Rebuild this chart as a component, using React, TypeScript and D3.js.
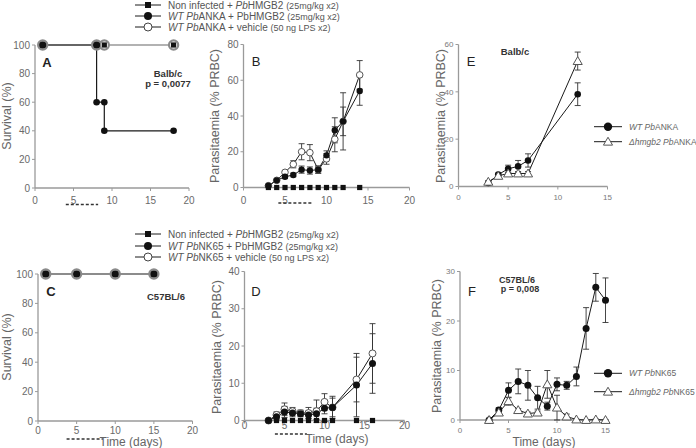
import React from "react";
import * as d3 from "d3";

const FONT = "'Liberation Sans', Arial, Helvetica, sans-serif";

// ---------- Panel A (survival, Balb/c) ----------
const aDaysHmgb2 = [1, 8, 8, 9, 9, 18];
const aHmgb2 = [100, 100, 60, 60, 40, 40];
const aDaysVehicle = [1, 8, 9, 18];
const aVehicle = [100, 100, 100, 100];
const aDaysNonInf = [1, 9, 18];
const aNonInf = [100, 100, 100];
const aTreat = [4, 8.2];

// ---------- Panel B (parasitaemia, Balb/c) ----------
const bDays = [3, 4, 5, 6, 7, 8, 9, 10, 11, 12, 14];
const bHmgb2 = [1, 4, 6, 7, 10, 9.5, 10, 18, 32, 37, 54];
const bHmgb2Err = [0.5, 0.5, 1, 1, 2, 2, 2, 2.5, 7, 8, 8];
const bVehicle = [1, 4, 8.5, 13, 20, 19.5, 10, 16, 27, 37, 63];
const bVehicleErr = [0.5, 0.5, 1, 2, 4.5, 4.5, 2, 3, 7, 16, 8];
const bNonInf = [0, 0, 0, 0, 0, 0, 0, 0, 0, 0, 0];
const bTreat = [4.2, 8.2];

// ---------- Panel E (Balb/c, WT vs KO) ----------
const eDays = [3, 4, 5, 6, 7, 12];
const eWt = [1.5, 5, 7.5, 8.5, 11, 39];
const eWtErr = [0.5, 0.5, 1.5, 2.5, 2.8, 4.8];
const eKo = [2, 4.5, 5.5, 5.5, 5.5, 53];
const eKoErr = [0.5, 0.5, 0.5, 0.8, 0.8, 3.8];

// ---------- Panel C (survival, C57BL/6) ----------
const cDays = [1, 5, 10, 15];
const cAll = [100, 100, 100, 100];
const cTreat = [3.7, 8.4];

// ---------- Panel D (parasitaemia, C57BL/6) ----------
const dDays = [3, 4, 5, 6, 7, 8, 9, 10, 11, 14, 16];
const dHmgb2 = [0, 1, 2.3, 2, 1.8, 1.5, 1.8, 3.3, 3.5, 9.5, 15.3];
const dHmgb2Err = [0.2, 0.8, 1.5, 1, 0.8, 1, 1.5, 1.5, 2.5, 8.5, 8];
const dVehicle = [0, 1.5, 3, 2.5, 2, 2, 2.5, 5, 3.5, 11, 18];
const dVehicleErr = [0.2, 0.8, 1.7, 1, 0.8, 1.5, 3, 2.2, 3, 6, 8];
const dNonInf = [0, 0, 0, 0, 0, 0, 0, 0, 0, 0, 0];
const dTreat = [3.8, 7.8];

// ---------- Panel F (C57BL/6, WT vs KO) ----------
const fDays = [3, 4, 5, 6, 7, 8, 9, 10, 11, 12, 13, 14, 15];
const fWt = [0, 2, 6, 7.8, 7, 4.5, 2.8, 7.2, 7, 8.8, 18.5, 26.8, 24.2];
const fWtErr = [0.2, 0.5, 1.5, 2.5, 3, 2.3, 0.8, 1.3, 0.8, 1.9, 4.2, 2.8, 4.5];
const fKo = [0, 1.5, 3.8, 2, 1.3, 1.5, 7.2, 2.5, 0.7, 0.1, 0, 0.1, 0];
const fKoErr = [0.2, 0.3, 0.8, 0.3, 0.3, 0.3, 2.8, 2.5, 0.5, 0.1, 0.1, 0.1, 0.1];

const ticks20 = [0, 5, 10, 15, 20];
const ticks15 = [0, 5, 10, 15];
const ticksSurv = [0, 20, 40, 60, 80, 100];

const AXIS = "#9a9a9a";
const TXT = "#6a6a6a";
const LINE = "#1a1a1a";

type Sc = d3.ScaleLinear<number, number>;

function Axes({ x, y, xt, yt, fs = 10, xOff = 16, fill = TXT }: { x: Sc; y: Sc; xt: number[]; yt: number[]; fs?: number; xOff?: number; fill?: string }) {
  const [x0, x1] = x.range();
  const [y0, y1] = y.range();
  return (
    <g>
      <line x1={x0} x2={x1} y1={y0} y2={y0} stroke={AXIS} strokeWidth={1.3} />
      <line x1={x0} x2={x0} y1={y0} y2={y1} stroke={AXIS} strokeWidth={1.3} />
      {xt.map((t) => (
        <g key={"x" + t}>
          <line x1={x(t)} x2={x(t)} y1={y0} y2={y0 + 3} stroke={AXIS} />
          <text x={x(t)} y={y0 + xOff} textAnchor="middle" fontSize={fs} fill={fill} fontFamily={FONT}>
            {t}
          </text>
        </g>
      ))}
      {yt.map((t) => (
        <g key={"y" + t}>
          <line x1={x0 - 3} x2={x0} y1={y(t)} y2={y(t)} stroke={AXIS} />
          <text x={x0 - 5} y={y(t) + fs * 0.35} textAnchor="end" fontSize={fs} fill={fill} fontFamily={FONT}>
            {t}
          </text>
        </g>
      ))}
    </g>
  );
}

function Path({ x, y, xs, ys, color = LINE, w = 1 }: any) {
  const gen = d3.line<number>().x((_, i) => x(xs[i])).y((v) => y(v));
  return <path d={gen(ys) || ""} fill="none" stroke={color} strokeWidth={w} />;
}

function ErrBars({ x, y, xs, ys, es }: any) {
  return (
    <g stroke="#333" strokeWidth={0.9}>
      {ys.map((v: number, i: number) => {
        const cx = x(xs[i]);
        const top = y(v + es[i]);
        const bot = y(v - es[i]);
        return (
          <g key={i}>
            <line x1={cx} x2={cx} y1={top} y2={bot} />
            <line x1={cx - 3} x2={cx + 3} y1={top} y2={top} />
            <line x1={cx - 3} x2={cx + 3} y1={bot} y2={bot} />
          </g>
        );
      })}
    </g>
  );
}

function Marks({ x, y, xs, ys, kind, r = 3 }: any) {
  return (
    <g>
      {ys.map((v: number, i: number) => {
        const cx = x(xs[i]);
        const cy = y(v);
        if (kind === "square")
          return <rect key={i} x={cx - 2.6} y={cy - 2.6} width={5.2} height={5.2} fill="#111" />;
        if (kind === "filled") return <circle key={i} cx={cx} cy={cy} r={r} fill="#111" />;
        if (kind === "open")
          return <circle key={i} cx={cx} cy={cy} r={r} fill="#fff" stroke="#555" strokeWidth={1} />;
        if (kind === "halo")
          return <circle key={i} cx={cx} cy={cy} r={r} fill="#fff" stroke="#8a8a8a" strokeWidth={2.2} />;
        if (kind === "tri") {
          const p = d3.symbol().type(d3.symbolTriangle).size(36)() || "";
          return (
            <path key={i} d={p} transform={`translate(${cx},${cy + 0.8})`} fill="#fff" stroke="#555" strokeWidth={1} />
          );
        }
        return null;
      })}
    </g>
  );
}

function Treat({ x, range, yPos }: any) {
  return (
    <line x1={x(range[0])} x2={x(range[1])} y1={yPos} y2={yPos} stroke="#333" strokeWidth={1.4} strokeDasharray="3,2" />
  );
}

function T({ x, y, children, size = 10, anchor = "start", weight = "normal", fill = "#555", rotate = false }: any) {
  return (
    <text
      x={x}
      y={y}
      fontSize={size}
      textAnchor={anchor}
      fontWeight={weight}
      fill={fill}
      fontFamily={FONT}
      transform={rotate ? `rotate(-90,${x},${y})` : undefined}
    >
      {children}
    </text>
  );
}

function TopLegend({ y0, strain }: { y0: number[]; strain: string }) {
  const lx1 = 135;
  const lx2 = 161;
  const mx = 148;
  const tx = 168;
  return (
    <g>
      <line x1={lx1} x2={lx2} y1={y0[0]} y2={y0[0]} stroke={LINE} />
      <rect x={mx - 3} y={y0[0] - 3} width={6} height={6} fill="#111" />
      <text x={tx} y={y0[0] + 3.5} fontSize={10} fill="#555" fontFamily={FONT}>
        Non infected + <tspan fontStyle="italic">Pb</tspan>HMGB2 <tspan fontSize={9}>(25mg/kg x2)</tspan>
      </text>
      <line x1={lx1} x2={lx2} y1={y0[1]} y2={y0[1]} stroke={LINE} />
      <circle cx={mx} cy={y0[1]} r={4} fill="#111" />
      <text x={tx} y={y0[1] + 3.5} fontSize={10} fill="#555" fontFamily={FONT}>
        <tspan fontStyle="italic">WT Pb</tspan>
        {strain} +  PbHMGB2 <tspan fontSize={9}>(25mg/kg x2)</tspan>
      </text>
      <line x1={lx1} x2={lx2} y1={y0[2]} y2={y0[2]} stroke={LINE} />
      <circle cx={mx} cy={y0[2]} r={4} fill="#fff" stroke="#444" />
      <text x={tx} y={y0[2] + 3.5} fontSize={10} fill="#555" fontFamily={FONT}>
        <tspan fontStyle="italic">WT Pb</tspan>
        {strain} + vehicle <tspan fontSize={9}>(50 ng LPS x2)</tspan>
      </text>
    </g>
  );
}

function SideLegend({ ys, strain }: { ys: number[]; strain: string }) {
  const tri = d3.symbol().type(d3.symbolTriangle).size(36)() || "";
  return (
    <g>
      <line x1={594} x2={622} y1={ys[0]} y2={ys[0]} stroke={LINE} />
      <circle cx={608} cy={ys[0]} r={4.2} fill="#111" />
      <text x={629} y={ys[0] + 3} fontSize={8.5} fill="#666" fontFamily={FONT} fontStyle="italic">
        WT Pb<tspan fontStyle="normal">{strain}</tspan>
      </text>
      <line x1={594} x2={622} y1={ys[1]} y2={ys[1]} stroke={LINE} />
      <path d={tri} transform={`translate(608,${ys[1] + 0.8})`} fill="#fff" stroke="#555" />
      <text x={629} y={ys[1] + 3} fontSize={8.5} fill="#666" fontFamily={FONT} fontStyle="italic">
        Δhmgb2 Pb<tspan fontStyle="normal">{strain}</tspan>
      </text>
    </g>
  );
}

export default function App() {
  const xA = d3.scaleLinear().domain([0, 20]).range([35, 189]);
  const yA = d3.scaleLinear().domain([0, 100]).range([188, 45]);
  const xB = d3.scaleLinear().domain([0, 20]).range([243.5, 409.5]);
  const yB = d3.scaleLinear().domain([0, 80]).range([187.5, 44.5]);
  const xE = d3.scaleLinear().domain([0, 15]).range([458.5, 607.5]);
  const yE = d3.scaleLinear().domain([0, 60]).range([186.5, 44.5]);
  const xC = d3.scaleLinear().domain([0, 20]).range([38, 192.5]);
  const yC = d3.scaleLinear().domain([0, 100]).range([421, 274]);
  const xD = d3.scaleLinear().domain([0, 20]).range([244.5, 404.5]);
  const yD = d3.scaleLinear().domain([0, 40]).range([420.5, 271.5]);
  const xF = d3.scaleLinear().domain([0, 15]).range([460, 605.5]);
  const yF = d3.scaleLinear().domain([0, 30]).range([420, 271.5]);

  return (
    <svg
      width={696}
      height={448}
      style={{ position: "absolute", left: 0, top: 0, background: "#fff" }}
      fontFamily={FONT}
    >
      <rect width={696} height={448} fill="#fff" />

      <TopLegend y0={[5, 16, 27]} strain="ANKA" />
      <TopLegend y0={[234, 246, 257]} strain="NK65" />

      {/* ---------- A ---------- */}
      <Axes x={xA} y={yA} xt={ticks20} yt={ticksSurv} />
      <Path x={xA} y={yA} xs={aDaysVehicle} ys={aVehicle} color="#999" w={1.5} />
      <Path x={xA} y={yA} xs={aDaysHmgb2} ys={aHmgb2} color={LINE} w={1.2} />
      <Marks x={xA} y={yA} xs={aDaysVehicle} ys={aVehicle} kind="halo" r={4.6} />
      <Marks x={xA} y={yA} xs={aDaysNonInf} ys={aNonInf} kind="square" />
      <Marks x={xA} y={yA} xs={aDaysHmgb2.slice(0, 2)} ys={aHmgb2.slice(0, 2)} kind="filled" r={3.6} />
      <Marks x={xA} y={yA} xs={aDaysHmgb2.slice(2)} ys={aHmgb2.slice(2)} kind="filled" r={3.3} />
      <Treat x={xA} range={aTreat} yPos={204.5} />
      <T x={47} y={67} size={13} anchor="middle" weight="bold" fill="#222">A</T>
      <T x={168} y={77} size={9.5} anchor="middle" weight="bold" fill="#333">Balb/c</T>
      <T x={168} y={87} size={9.5} anchor="middle" weight="bold" fill="#333">p = 0,0077</T>
      <T x={11} y={116} size={12.5} anchor="middle" fill="#666" rotate>Survival (%)</T>

      {/* ---------- B ---------- */}
      <Axes x={xB} y={yB} xt={ticks20} yt={[0, 20, 40, 60, 80]} />
      <Path x={xB} y={yB} xs={bDays} ys={bVehicle} />
      <Path x={xB} y={yB} xs={bDays} ys={bHmgb2} />
      <ErrBars x={xB} y={yB} xs={bDays} ys={bVehicle} es={bVehicleErr} />
      <ErrBars x={xB} y={yB} xs={bDays} ys={bHmgb2} es={bHmgb2Err} />
      <Marks x={xB} y={yB} xs={bDays} ys={bVehicle} kind="open" r={3.3} />
      <Marks x={xB} y={yB} xs={bDays} ys={bHmgb2} kind="filled" r={3.2} />
      <Marks x={xB} y={yB} xs={bDays} ys={bNonInf} kind="square" />
      <Treat x={xB} range={bTreat} yPos={203} />
      <T x={256} y={66} size={13} anchor="middle" fill="#222">B</T>
      <T x={219} y={116} size={12.5} anchor="middle" fill="#666" rotate>Parasitaemia (% PRBC)</T>

      {/* ---------- E ---------- */}
      <Axes x={xE} y={yE} xt={ticks15} yt={[0, 20, 40, 60]} fs={8} xOff={13} fill="#7a7a7a" />
      <Path x={xE} y={yE} xs={eDays} ys={eWt} />
      <Path x={xE} y={yE} xs={eDays} ys={eKo} />
      <ErrBars x={xE} y={yE} xs={eDays} ys={eWt} es={eWtErr} />
      <ErrBars x={xE} y={yE} xs={eDays} ys={eKo} es={eKoErr} />
      <Marks x={xE} y={yE} xs={eDays} ys={eWt} kind="filled" r={3.3} />
      <Marks x={xE} y={yE} xs={eDays} ys={eKo} kind="tri" />
      <T x={471} y={66} size={13} anchor="middle" fill="#222">E</T>
      <T x={515} y={55} size={9.5} anchor="middle" weight="bold" fill="#333">Balb/c</T>
      <T x={445} y={116} size={12.5} anchor="middle" fill="#666" rotate>Parasitaemia (% PRBC)</T>
      <SideLegend ys={[126.7, 141.7]} strain="ANKA" />

      {/* ---------- C ---------- */}
      <Axes x={xC} y={yC} xt={ticks20} yt={ticksSurv} xOff={13} />
      <Path x={xC} y={yC} xs={cDays} ys={cAll} w={1.2} />
      <Marks x={xC} y={yC} xs={cDays} ys={cAll} kind="halo" r={4.6} />
      <Marks x={xC} y={yC} xs={cDays} ys={cAll} kind="filled" r={3.6} />
      <Marks x={xC} y={yC} xs={cDays} ys={cAll} kind="square" />
      <Treat x={xC} range={cTreat} yPos={439} />
      <T x={51} y={296} size={13} anchor="middle" weight="bold" fill="#222">C</T>
      <T x={166} y={299.5} size={9.5} anchor="middle" weight="bold" fill="#333">C57BL/6</T>
      <T x={11} y={347} size={12.5} anchor="middle" fill="#666" rotate>Survival (%)</T>
      <T x={131} y={446} size={12} anchor="middle" fill="#666">Time (days)</T>

      {/* ---------- D ---------- */}
      <Axes x={xD} y={yD} xt={ticks20} yt={[0, 10, 20, 30, 40]} xOff={8.5} />
      <Path x={xD} y={yD} xs={dDays} ys={dVehicle} />
      <Path x={xD} y={yD} xs={dDays} ys={dHmgb2} />
      <ErrBars x={xD} y={yD} xs={dDays} ys={dVehicle} es={dVehicleErr} />
      <ErrBars x={xD} y={yD} xs={dDays} ys={dHmgb2} es={dHmgb2Err} />
      <Marks x={xD} y={yD} xs={dDays} ys={dVehicle} kind="open" r={3.5} />
      <Marks x={xD} y={yD} xs={dDays} ys={dHmgb2} kind="filled" r={3.5} />
      <Marks x={xD} y={yD} xs={dDays.slice(1)} ys={dNonInf.slice(1)} kind="square" />
      <Treat x={xD} range={dTreat} yPos={434} />
      <T x={337} y={443} size={12} anchor="middle" fill="#666">Time (days)</T>
      <T x={256} y={296} size={13} anchor="middle" fill="#222">D</T>
      <T x={221} y={347} size={12.5} anchor="middle" fill="#666" rotate>Parasitaemia (% PRBC)</T>

      {/* ---------- F ---------- */}
      <Axes x={xF} y={yF} xt={ticks15} yt={[0, 10, 20, 30]} fs={8} xOff={13} fill="#7a7a7a" />
      <Path x={xF} y={yF} xs={fDays} ys={fWt} />
      <Path x={xF} y={yF} xs={fDays} ys={fKo} />
      <ErrBars x={xF} y={yF} xs={fDays} ys={fWt} es={fWtErr} />
      <ErrBars x={xF} y={yF} xs={fDays} ys={fKo} es={fKoErr} />
      <Marks x={xF} y={yF} xs={fDays} ys={fWt} kind="filled" r={3.5} />
      <Marks x={xF} y={yF} xs={fDays} ys={fKo} kind="tri" />
      <T x={472} y={296} size={13} anchor="middle" fill="#222">F</T>
      <T x={517} y={282.5} size={9} anchor="middle" weight="bold" fill="#333">C57BL/6</T>
      <T x={520} y={292} size={9} anchor="middle" weight="bold" fill="#333">p = 0,008</T>
      <T x={544} y={446} size={12} anchor="middle" fill="#666">Time (days)</T>
      <T x={441} y={346} size={12.5} anchor="middle" fill="#666" rotate>Parasitaemia (% PRBC)</T>
      <SideLegend ys={[373.3, 391.7]} strain="NK65" />
    </svg>
  );
}
